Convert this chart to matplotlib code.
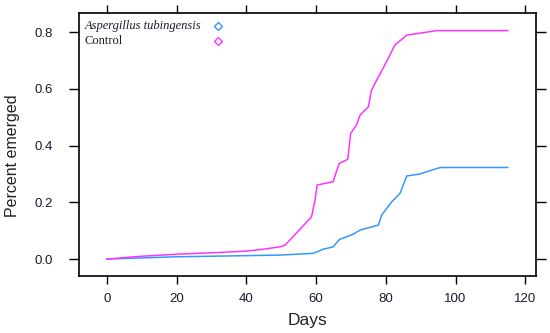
import matplotlib
matplotlib.use('Agg')
import matplotlib.pyplot as plt

# emergence curves
days_asp = [0, 10, 20, 30, 40, 49.6, 59.2, 62.1, 64.9, 66.7, 70.7, 72.6, 77.9, 78.8,
            81.7, 84.1, 86.0, 89.8, 91.7, 95.6, 115]
emerged_asp = [0, 0.004, 0.008, 0.010, 0.012, 0.014, 0.020, 0.035, 0.043, 0.069, 0.088,
               0.102, 0.120, 0.155, 0.202, 0.232, 0.293, 0.300, 0.308, 0.323, 0.323]

days_ctl = [0, 5, 10, 20, 30, 40, 45, 49.6, 51.1, 58.7, 59.7, 60.3, 64.9, 66.6, 69.1,
            69.9, 71.6, 72.6, 75.0, 75.9, 77.9, 80.2, 82.6, 86.0, 94.6, 115]
emerged_ctl = [0, 0.005, 0.010, 0.017, 0.022, 0.028, 0.035, 0.043, 0.049, 0.149, 0.208,
               0.261, 0.273, 0.337, 0.352, 0.443, 0.473, 0.508, 0.537, 0.596, 0.643,
               0.696, 0.755, 0.790, 0.806, 0.806]

series_names = ['Aspergillus tubingensis', 'Control']
xticks = [0, 20, 40, 60, 80, 100, 120]
yticks = [0.0, 0.2, 0.4, 0.6, 0.8]

blue = '#3399ff'
pink = '#ff33ff'
txt = '#1a1a30'

plt.rcParams['font.family'] = 'Liberation Sans'

fig = plt.figure(figsize=(5.5, 3.33), dpi=100)
ax = fig.add_axes([0.144, 0.171, 0.830, 0.789])

ax.plot(days_asp, emerged_asp, color=blue, lw=1.1)
ax.plot(days_ctl, emerged_ctl, color=pink, lw=1.1)

ax.set_xlim(-7.95, 123)
ax.set_ylim(-0.06, 0.867)
ax.set_xticks(xticks)
ax.set_xticklabels([str(t) for t in xticks])
ax.set_yticks(yticks)
ax.set_yticklabels(['%.1f' % t for t in yticks])
ax.tick_params(direction='out', width=1, top=True, right=True,
               labelsize=9.5, labelcolor=txt)
ax.tick_params(axis='x', length=5.5, pad=7)
ax.tick_params(axis='y', length=7, pad=12)
for s in ax.spines.values():
    s.set_linewidth(1.2)

ax.set_xlabel('Days', fontsize=12.5, color='#222222')
ax.set_ylabel('Percent emerged', fontsize=11.5, color='#222222')
ax.xaxis.set_label_coords(0.5, -0.14)
ax.yaxis.set_label_coords(-0.13, 0.457)

# lattice-style key: text on the left, open diamonds to the right
key_y = [0.953, 0.896]
for name, col, yk in zip(series_names, [blue, pink], key_y):
    ax.text(0.0125, yk, name, transform=ax.transAxes, va='center', ha='left',
            family='Liberation Serif', fontsize=9, color=txt,
            style='italic' if name != 'Control' else 'normal')
    ax.plot([0.304], [yk], transform=ax.transAxes, ls='none', marker='D',
            mfc='none', mec=col, ms=4, mew=1, clip_on=False)

fig.savefig('out.png', dpi=100)
